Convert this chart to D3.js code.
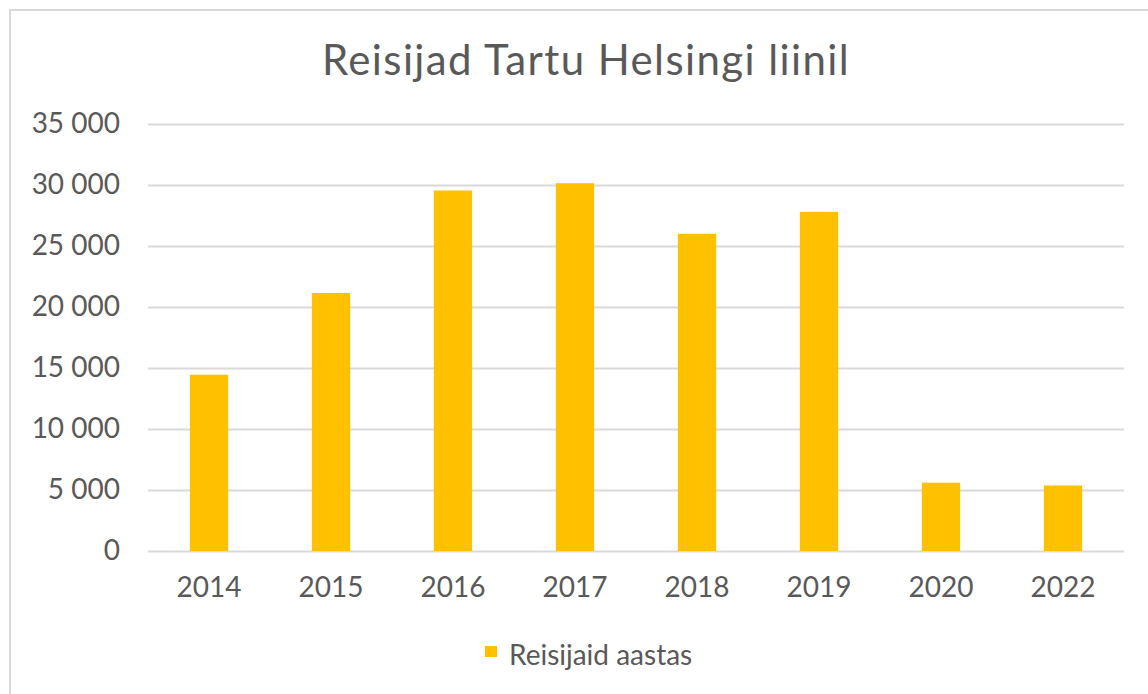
<!DOCTYPE html>
<meta charset="utf-8">
<style>
body { margin: 0; background: #fff; }
text { font-family: Lato, "Open Sans", sans-serif; fill: #595959; }
.grid line { stroke: #d9d9d9; stroke-width: 2; }
.grid .domain { display: none; }
</style>
<body>
<svg width="1148" height="694"></svg>
<script src="https://d3js.org/d3.v7.min.js"></script>
<script>

var years = ["2014", "2015", "2016", "2017", "2018", "2019", "2020", "2022"];
var passengers = [14450, 21150, 29550, 30150, 26000, 27800, 5600, 5370];
var yTicks = [0, 5000, 10000, 15000, 20000, 25000, 30000, 35000];
var seriesName = "Reisijaid aastas";
var chartTitle = "Reisijad Tartu Helsingi liinil";

var svg = d3.select("svg"),
    margin = {top: 124, right: 24, bottom: 143, left: 148},
    width = +svg.attr("width") - margin.left - margin.right,
    height = +svg.attr("height") - margin.top - margin.bottom;

// chart frame
svg.append("rect")
    .attr("x", 10).attr("y", 10)
    .attr("width", 1200).attr("height", 800)
    .attr("fill", "none")
    .attr("stroke", "#d9d9d9")
    .attr("stroke-width", 2);

var x = d3.scaleBand()
    .domain(years)
    .range([0, width])
    .paddingInner(0.686)
    .paddingOuter(0.343);

var y = d3.scaleLinear()
    .domain([0, 35000])
    .range([height, 0]);

var fmt = function(d) { return d3.format(",")(d).replace(/,/g, " "); };

var g = svg.append("g")
    .attr("transform", "translate(" + margin.left + "," + margin.top + ")");

g.append("g")
    .attr("class", "grid")
    .call(d3.axisLeft(y).tickValues(yTicks).tickSize(-width).tickFormat(""));

g.selectAll(".bar")
    .data(passengers)
    .enter().append("rect")
      .attr("class", "bar")
      .attr("x", function(d, i) { return x(years[i]); })
      .attr("y", function(d) { return y(d); })
      .attr("width", x.bandwidth())
      .attr("height", function(d) { return height - y(d); })
      .attr("fill", "#ffc000");

// y labels
var yAxis = g.append("g")
    .call(d3.axisLeft(y).tickValues(yTicks).tickSize(0).tickPadding(28).tickFormat(fmt));
yAxis.select(".domain").remove();
yAxis.selectAll("text").attr("font-size", 28).attr("font-family", null);

// x labels
var xAxis = g.append("g")
    .attr("transform", "translate(0," + height + ")")
    .call(d3.axisBottom(x).tickSize(0).tickPadding(26));
xAxis.select(".domain").remove();
xAxis.selectAll("text").attr("font-size", 28).attr("font-family", null);

svg.append("text")
    .attr("x", 586)
    .attr("y", 75)
    .attr("text-anchor", "middle")
    .attr("font-size", 42)
    .attr("letter-spacing", 1.4)
    .text(chartTitle);

var legend = svg.append("g")
    .attr("transform", "translate(485,646)");
legend.append("rect")
    .attr("width", 12).attr("height", 11)
    .attr("fill", "#ffc000");
legend.append("text")
    .attr("x", 24)
    .attr("y", 19)
    .attr("font-size", 28)
    .text(seriesName);

</script>
</body>
